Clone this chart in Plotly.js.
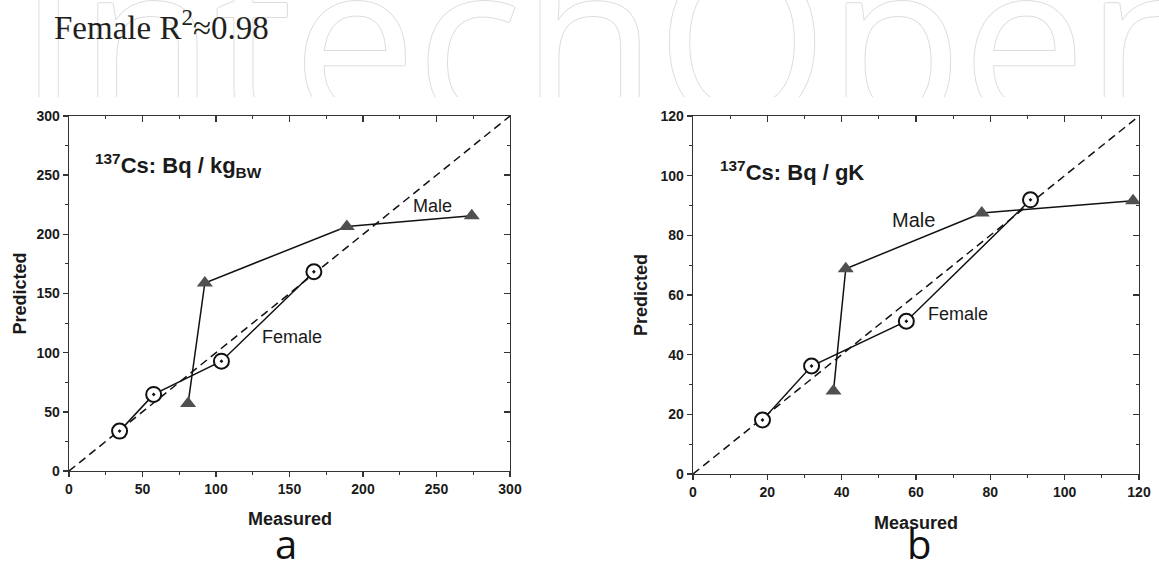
<!DOCTYPE html>
<html>
<head>
<meta charset="utf-8">
<script src="https://cdn.plot.ly/plotly-3.0.1.min.js"></script>
<style>html,body{margin:0;padding:0;background:#fff;}#chart{width:1159px;height:572px;}</style>
</head>
<body>
<div id="chart"></div>
<script>
// Panel a: 137Cs Bq / kg body weight
const femaleMeasuredA = [34.4, 57.6, 103.7, 166.6];
const femalePredictedA = [33.7, 64.7, 92.8, 168.4];
const maleMeasuredA = [81.0, 92.4, 189.0, 274.0];
const malePredictedA = [57.0, 158.9, 206.6, 215.6];
const identityA = [0, 300];

// Panel b: 137Cs Bq / g K
const femaleMeasuredB = [18.7, 31.9, 57.4, 90.8];
const femalePredictedB = [18.1, 36.2, 51.2, 91.9];
const maleMeasuredB = [37.8, 41.1, 77.7, 118.4];
const malePredictedB = [27.8, 68.8, 87.5, 91.6];
const identityB = [0, 120];

const watermarkText = ['IntechOpen'];
const watermarkX = [18];
const watermarkY = [66];

const FONT = 'Arial, "Liberation Sans", sans-serif';
const INK = '#1a1a1a';
const AX = '#333333';

function baseAxis(range, dtick, minor, domain, anchor) {
  return {
    domain: domain, anchor: anchor, range: range, autorange: false,
    showgrid: false, zeroline: false, showline: true, linecolor: AX, linewidth: 1.4,
    ticks: 'outside', ticklen: 5, tickwidth: 1.4, tickcolor: AX,
    tick0: 0, dtick: dtick,
    minor: {dtick: minor, ticks: 'outside', ticklen: 3, tickwidth: 1.1, tickcolor: AX, showgrid: false},
    tickfont: {family: FONT, size: 14, color: INK, weight: 'bold'},
    fixedrange: true
  };
}
function mirrorAxis(range, dtick, minor, over, anchor, side) {
  return {
    overlaying: over, anchor: anchor, side: side, range: range, autorange: false,
    showgrid: false, zeroline: false, showline: true, linecolor: AX, linewidth: 1.4,
    ticks: 'inside', ticklen: 6, tickwidth: 1.4, tickcolor: AX,
    tick0: 0, dtick: dtick, showticklabels: false,
    minor: {dtick: minor, ticks: 'inside', ticklen: 3, tickwidth: 1.1, tickcolor: AX, showgrid: false},
    fixedrange: true
  };
}

const dashLine = {color: '#111', width: 1.5, dash: '8px,5px'};
const solidLine = {color: '#111', width: 1.5};
const femaleMarker = {symbol: 'circle-dot', size: 15, color: '#ffffff', line: {color: '#111', width: 2}};
const maleMarker = {symbol: 'triangle-up', size: 14, color: '#505050', line: {width: 0}};

const traces = [
  {x: watermarkX, y: watermarkY, text: watermarkText, mode: 'text', textposition: 'middle right',
   textfont: {family: '"Open Sans", sans-serif', size: 220, color: '#ffffff',
     shadow: '1px 0 0 #dcdcdc, -1px 0 0 #dcdcdc, 0 1px 0 #dcdcdc, 0 -1px 0 #dcdcdc'},
   cliponaxis: true, xaxis: 'x5', yaxis: 'y5', hoverinfo: 'skip', showlegend: false},

  {x: identityA, y: identityA, mode: 'lines', line: dashLine, xaxis: 'x', yaxis: 'y', hoverinfo: 'skip'},
  {x: maleMeasuredA, y: malePredictedA, mode: 'lines+markers', line: solidLine, marker: maleMarker, name: 'Male', xaxis: 'x', yaxis: 'y'},
  {x: femaleMeasuredA, y: femalePredictedA, mode: 'lines+markers', line: solidLine, marker: femaleMarker, name: 'Female', xaxis: 'x', yaxis: 'y'},
  {x: [null], y: [null], mode: 'markers', xaxis: 'x3', yaxis: 'y3', hoverinfo: 'skip'},

  {x: identityB, y: identityB, mode: 'lines', line: dashLine, xaxis: 'x2', yaxis: 'y2', hoverinfo: 'skip'},
  {x: maleMeasuredB, y: malePredictedB, mode: 'lines+markers', line: solidLine, marker: maleMarker, name: 'Male', xaxis: 'x2', yaxis: 'y2'},
  {x: femaleMeasuredB, y: femalePredictedB, mode: 'lines+markers', line: solidLine, marker: femaleMarker, name: 'Female', xaxis: 'x2', yaxis: 'y2'},
  {x: [null], y: [null], mode: 'markers', xaxis: 'x4', yaxis: 'y4', hoverinfo: 'skip'}
];

const domA = {x: [69/1159, 510/1159], y: [(572-471)/572, (572-116)/572]};
const domB = {x: [693/1159, 1139/1159], y: [(572-474)/572, (572-116)/572]};

function ann(text, x, y, xref, yref, size, opts) {
  return Object.assign({text: text, x: x, y: y, xref: xref, yref: yref, showarrow: false,
    font: {family: FONT, size: size, color: INK}, xanchor: 'center', yanchor: 'middle'}, opts || {});
}

const layout = {
  width: 1159, height: 572,
  margin: {l: 0, r: 0, t: 0, b: 0},
  paper_bgcolor: '#ffffff', plot_bgcolor: 'rgba(0,0,0,0)',
  showlegend: false,
  xaxis: baseAxis([0, 300], 50, 25, domA.x, 'y'),
  yaxis: baseAxis([0, 300], 50, 25, domA.y, 'x'),
  xaxis3: mirrorAxis([0, 300], 50, 25, 'x', 'y', 'top'),
  yaxis3: mirrorAxis([0, 300], 50, 25, 'y', 'x', 'right'),
  xaxis2: baseAxis([0, 120], 20, 10, domB.x, 'y2'),
  yaxis2: baseAxis([0, 120], 20, 10, domB.y, 'x2'),
  xaxis4: mirrorAxis([0, 120], 20, 10, 'x2', 'y2', 'top'),
  yaxis4: mirrorAxis([0, 120], 20, 10, 'y2', 'x2', 'right'),
  xaxis5: {domain: [0, 1], anchor: 'y5', range: [0, 1159], autorange: false, visible: false, fixedrange: true},
  yaxis5: {domain: [(572-97)/572, 1], anchor: 'x5', range: [97, 0], autorange: false, visible: false, fixedrange: true},
  annotations: [
    ann('Female R<sup>2</sup>≈0.98', 52/1159, 0.956, 'paper', 'paper', 33,
        {xanchor: 'left', font: {family: '"Liberation Serif", "Times New Roman", serif', size: 33, color: '#231f20'}}),

    ann('<sup>137</sup>Cs: Bq / kg<sub>BW</sub>', 16, 258, 'x', 'y', 22,
        {xanchor: 'left', font: {family: FONT, size: 22, color: INK, weight: 'bold'}}),
    ann('Male', 247.6, 224, 'x', 'y', 18),
    ann('Female', 151.6, 113.3, 'x', 'y', 18),
    ann('Predicted', 19/1159, (572-293.5)/572, 'paper', 'paper', 18,
        {textangle: -90, font: {family: FONT, size: 18, color: INK, weight: 'bold'}}),
    ann('Measured', 289.5/1159, (572-519)/572, 'paper', 'paper', 18,
        {font: {family: FONT, size: 18, color: INK, weight: 'bold'}}),
    ann('a', 286/1159, 0, 'paper', 'paper', 40,
        {yanchor: 'bottom', borderpad: 0, font: {family: '"Open Sans", sans-serif', size: 40, color: '#111'}}),

    ann('<sup>137</sup>Cs: Bq / gK', 6.8, 101.5, 'x2', 'y2', 22,
        {xanchor: 'left', font: {family: FONT, size: 22, color: INK, weight: 'bold'}}),
    ann('Male', 59.2, 85.3, 'x2', 'y2', 20),
    ann('Female', 71.4, 53.8, 'x2', 'y2', 18),
    ann('Predicted', 641/1159, (572-295)/572, 'paper', 'paper', 18,
        {textangle: -90, font: {family: FONT, size: 18, color: INK, weight: 'bold'}}),
    ann('Measured', 916/1159, (572-523)/572, 'paper', 'paper', 18,
        {font: {family: FONT, size: 18, color: INK, weight: 'bold'}}),
    ann('b', 919/1159, 0, 'paper', 'paper', 40,
        {yanchor: 'bottom', borderpad: 0, font: {family: '"Open Sans", sans-serif', size: 40, color: '#111'}})
  ]
};

Plotly.newPlot('chart', traces, layout, {staticPlot: true, displayModeBar: false});
</script>
</body>
</html>
